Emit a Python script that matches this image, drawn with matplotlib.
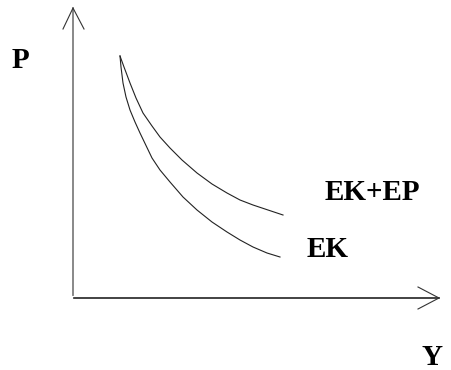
import matplotlib
matplotlib.use("Agg")
from matplotlib import pyplot as plt

# curve points (origin at the corner of the axes)
ekep_x = [47, 51, 57, 63, 70, 79, 87, 97, 109, 124, 139, 154, 167, 180, 195, 210]
ekep_y = [241, 230, 214, 199, 184, 171, 160, 149, 137, 124, 113, 104, 97, 92, 87, 82]
ek_x = [47, 48, 50, 53, 57, 62, 67, 79, 87, 97, 110, 124, 139, 154, 167, 180, 194, 207]
ek_y = [241, 230, 214, 200, 187, 175, 164, 139, 127, 115, 100, 87, 75, 65, 57, 50, 44, 40]

x_label = 'Y'
y_label = 'P'
curve_labels = ['EK+EP', 'EK']

fig = plt.figure(figsize=(4.51, 3.70), dpi=100)
ax = fig.add_axes([0, 0, 1, 1])
ax.set_xlim(-73, 378)
ax.set_ylim(-73, 297)
ax.axis('off')

# axes with open arrow heads
ax.plot([0, 0], [2, 289], color='#7f7f7f', lw=1.3)
ax.plot([-10, 0, 11], [268, 289, 268], color='#333333', lw=0.8)
ax.plot([1, 366], [-1, -1], color='#222222', lw=1.2)
ax.plot([345, 366, 345], [10, -1, -12], color='#333333', lw=0.8)

ax.plot(ekep_x, ekep_y, color='#222222', lw=0.8)
ax.plot(ek_x, ek_y, color='#222222', lw=0.8)

font = dict(family='Liberation Serif', weight='bold', color='black')
ax.text(-61, 229, y_label, fontsize=21, va='baseline', ha='left', **font)
ax.text(349, -68, x_label, fontsize=21, va='baseline', ha='left', **font)
ax.text(252, 97, curve_labels[0], fontsize=21, va='baseline', ha='left', **font)
ax.text(234, 40, curve_labels[1], fontsize=21, va='baseline', ha='left', **font)

fig.savefig('out.png', dpi=100)
